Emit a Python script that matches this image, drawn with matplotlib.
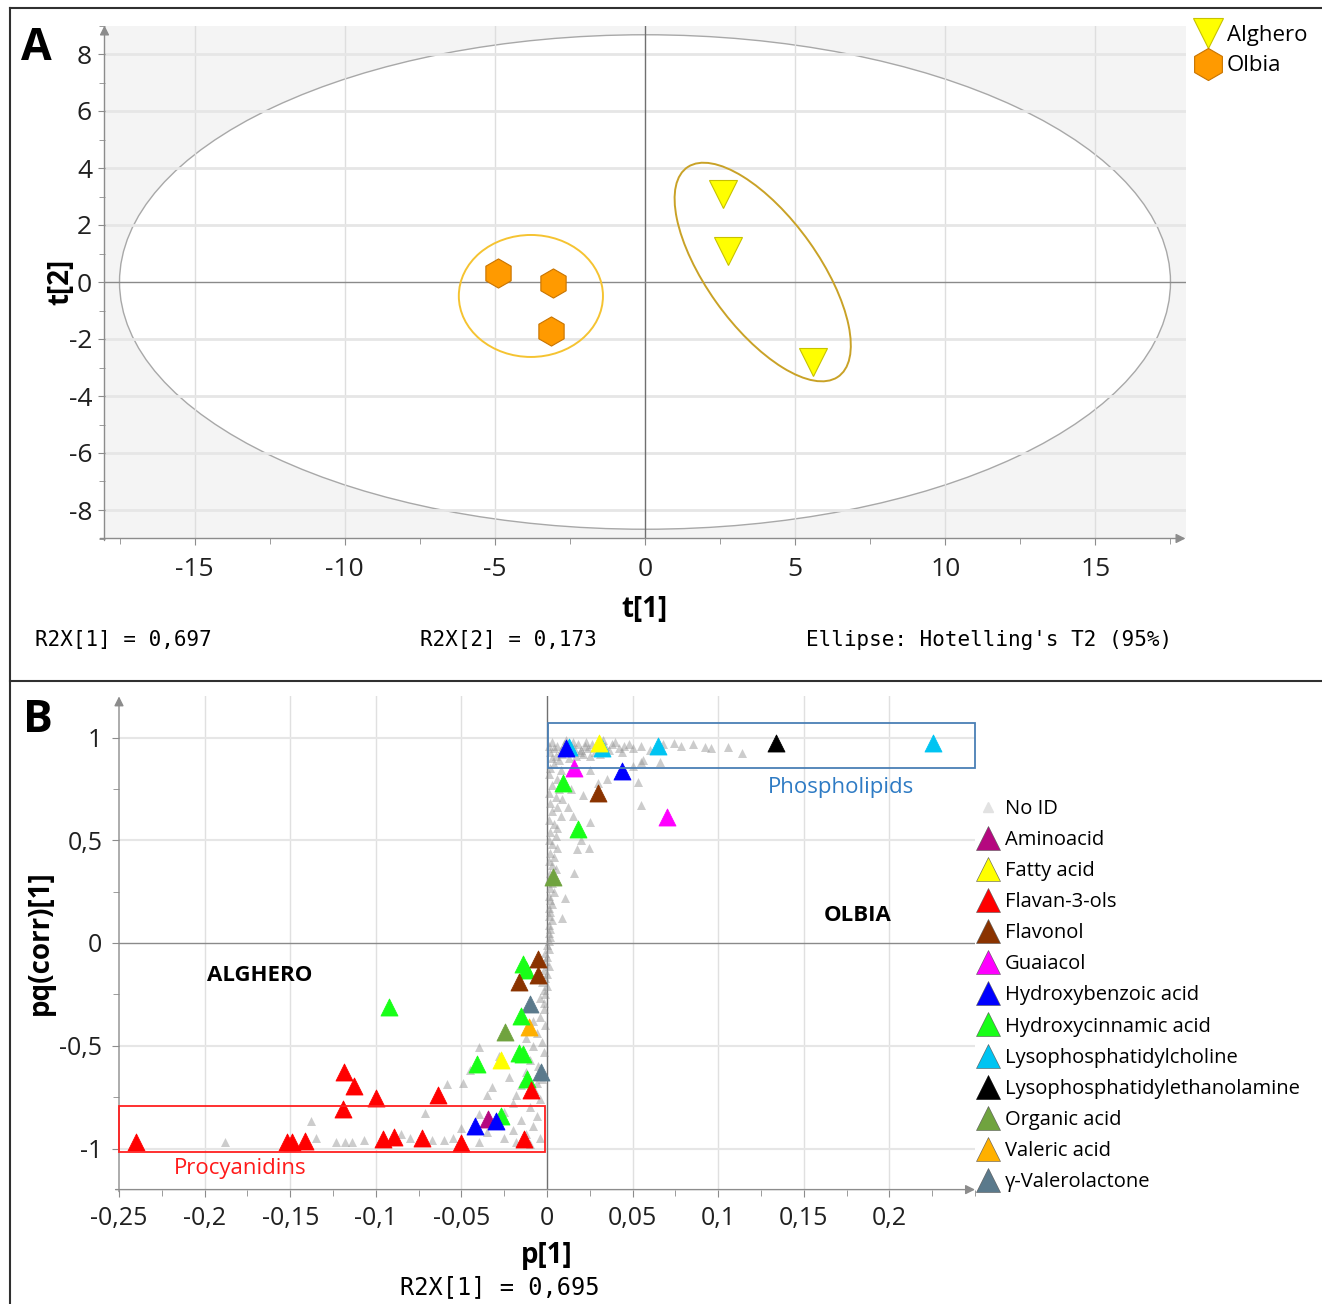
import numpy as np
import matplotlib
matplotlib.use("Agg")
import matplotlib.pyplot as plt  # noqa: E402
from matplotlib.patches import Ellipse, Rectangle  # noqa: E402
from matplotlib.lines import Line2D  # noqa: E402
from matplotlib.ticker import MultipleLocator, FixedLocator  # noqa: E402

plt.rcParams["font.family"] = ["Open Sans", "DejaVu Sans"]
MONO = "DejaVu Sans Mono"

W, H = 1322, 1304

# ---- panel A: PCA scores ----
alghero_t1 = [2.6, 2.75, 5.6]
alghero_t2 = [3.1, 1.1, -2.8]
olbia_t1 = [-4.9, -3.07, -3.13]
olbia_t2 = [0.32, -0.03, -1.72]
a_xticks = [-15, -10, -5, 0, 5, 10, 15]
a_yticks = [-8, -6, -4, -2, 0, 2, 4, 6, 8]

# ---- panel B: loadings p[1] vs pq(corr)[1] ----
noid = [
    (0.002, 0.93), (0.004, 0.95), (0.006, 0.96), (0.008, 0.94), (0.010, 0.97), (0.012, 0.93),
    (0.014, 0.96), (0.016, 0.95), (0.018, 0.97), (0.020, 0.94), (0.022, 0.96), (0.024, 0.95),
    (0.026, 0.97), (0.028, 0.93), (0.034, 0.96), (0.036, 0.94), (0.038, 0.97), (0.042, 0.95),
    (0.045, 0.96), (0.003, 0.90), (0.005, 0.91), (0.007, 0.89), (0.009, 0.92), (0.013, 0.90),
    (0.017, 0.91), (0.021, 0.92), (0.025, 0.91), (0.031, 0.92), (0.040, 0.98), (0.048, 0.97),
    (0.001, 0.96), (0.003, 0.98), (0.011, 0.99), (0.015, 0.98), (0.019, 0.93), (0.023, 0.98),
    (0.029, 0.96), (0.033, 0.99), (0.044, 0.93), (0.050, 0.95),
    (0.055, 0.96), (0.060, 0.94), (0.068, 0.97), (0.074, 0.973), (0.078, 0.96), (0.085, 0.97),
    (0.092, 0.955), (0.096, 0.947), (0.106, 0.955), (0.114, 0.923), (0.056, 0.89), (0.050, 0.86),
    (0.066, 0.88), (0.055, 0.882),
    (0.025, 0.84), (0.035, 0.80), (0.053, 0.785), (0.055, 0.672), (0.021, 0.72), (0.025, 0.59),
    (0.015, 0.62), (0.012, 0.66), (0.0247, 0.461), (0.0173, 0.456), (0.016, 0.34), (0.0105, 0.219),
    (0.0086, 0.122), (0.030, 0.78), (0.014, 0.75), (0.020, 0.50),
    (0.004, 0.87), (0.002, 0.85), (0.008, 0.84), (0.001, 0.82), (0.006, 0.80), (0.010, 0.79),
    (0.003, 0.77), (0.007, 0.75), (0.001, 0.73), (0.005, 0.71), (0.009, 0.70), (0.002, 0.68),
    (0.006, 0.66), (0.003, 0.64), (0.008, 0.62), (0.001, 0.60), (0.004, 0.58), (0.006, 0.56),
    (0.002, 0.54), (0.005, 0.52), (0.001, 0.50), (0.003, 0.48), (0.006, 0.46), (0.002, 0.44),
    (0.004, 0.42), (0.001, 0.40), (0.003, 0.38), (0.005, 0.36), (0.002, 0.34), (0.001, 0.31),
    (0.003, 0.29), (0.002, 0.27), (0.004, 0.25), (0.001, 0.23), (0.002, 0.21), (0.003, 0.19),
    (0.001, 0.17), (0.002, 0.15), (0.001, 0.13), (0.003, 0.11), (0.001, 0.09), (0.002, 0.07),
    (0.001, 0.05), (0.002, 0.03), (0.001, 0.01), (0.000, -0.01), (0.001, -0.03), (-0.001, -0.05),
    (0.000, -0.07), (-0.001, -0.09), (0.001, -0.11), (-0.002, -0.13), (0.000, -0.15),
    (-0.001, -0.17), (-0.003, -0.19), (0.000, -0.21), (-0.002, -0.23), (-0.001, -0.25),
    (-0.004, -0.27), (-0.002, -0.29),
    (-0.002, -0.32), (-0.004, -0.36), (-0.001, -0.40), (-0.006, -0.44), (-0.003, -0.48),
    (-0.008, -0.50), (-0.002, -0.53), (-0.010, -0.57), (-0.005, -0.60), (-0.012, -0.63),
    (-0.003, -0.66), (-0.015, -0.69), (-0.007, -0.72), (-0.018, -0.74), (-0.004, -0.76),
    (-0.020, -0.78), (-0.010, -0.80), (-0.025, -0.82), (-0.006, -0.84), (-0.015, -0.86),
    (-0.030, -0.88), (-0.008, -0.89), (-0.020, -0.91), (-0.012, -0.93), (-0.035, -0.92),
    (-0.004, -0.95), (-0.025, -0.95), (-0.040, -0.97), (-0.018, -0.97), (-0.010, -0.98),
    (-0.045, -0.62), (-0.035, -0.74), (-0.040, -0.83), (-0.028, -0.55), (-0.022, -0.65),
    (-0.050, -0.90), (-0.055, -0.95), (-0.040, -0.505), (-0.0586, -0.686), (-0.049, -0.682),
    (-0.071, -0.828), (-0.032, -0.70), (-0.008, -0.38), (-0.012, -0.46), (-0.006, -0.68),
    (-0.060, -0.958), (-0.067, -0.958), (-0.080, -0.95), (-0.085, -0.93), (-0.107, -0.958),
    (-0.114, -0.967), (-0.118, -0.967), (-0.123, -0.967), (-0.135, -0.95), (-0.138, -0.866),
    (-0.188, -0.968),
]
aminoacid = [(-0.0346, -0.858)]
fatty_acid = [(0.0306, 0.972), (-0.0269, -0.569)]
flavan3ols = [(-0.2403, -0.967), (-0.1184, -0.626), (-0.1126, -0.694), (-0.0999, -0.756),
              (-0.119, -0.809), (-0.0635, -0.740), (-0.152, -0.967), (-0.149, -0.967),
              (-0.1414, -0.962), (-0.096, -0.955), (-0.0892, -0.943), (-0.0732, -0.951),
              (-0.0502, -0.972), (-0.0133, -0.955), (-0.0093, -0.715)]
flavonol = [(0.030, 0.728), (-0.0054, -0.079), (-0.0164, -0.188), (-0.0054, -0.156)]
guaiacol = [(0.016, 0.85), (0.0699, 0.615)]
hbenzoic = [(0.0111, 0.949), (0.0436, 0.837), (-0.030, -0.865), (-0.042, -0.891)]
hcinnamic = [(0.0095, 0.78), (0.0183, 0.553), (-0.0138, -0.104), (-0.0123, -0.131),
             (-0.0154, -0.354), (-0.0164, -0.534), (-0.0138, -0.540), (-0.0411, -0.590),
             (-0.0115, -0.663), (-0.027, -0.842), (-0.0921, -0.310)]
lpc = [(0.013, 0.955), (0.032, 0.947), (0.0647, 0.960), (0.2253, 0.972)]
lpe = [(0.134, 0.972)]
organic = [(0.0037, 0.323), (-0.0245, -0.431)]
valeric = [(-0.0103, -0.407)]
valerolactone = [(-0.0099, -0.297), (-0.0035, -0.626)]

classes = [
    ("Aminoacid", aminoacid, "#b5087f"),
    ("Fatty acid", fatty_acid, "#ffff00"),
    ("Flavan-3-ols", flavan3ols, "#ff0000"),
    ("Flavonol", flavonol, "#8a3300"),
    ("Guaiacol", guaiacol, "#ff00ff"),
    ("Hydroxybenzoic acid", hbenzoic, "#0000ff"),
    ("Hydroxycinnamic acid", hcinnamic, "#18ff18"),
    ("Lysophosphatidylcholine", lpc, "#00c4f2"),
    ("Lysophosphatidylethanolamine", lpe, "#000000"),
    ("Organic acid", organic, "#70a33f"),
    ("Valeric acid", valeric, "#ffb000"),
    ("γ-Valerolactone", valerolactone, "#5b7a8c"),
]
draw_order = ["Lysophosphatidylcholine", "Lysophosphatidylethanolamine", "Organic acid",
              "Valeric acid", "γ-Valerolactone", "Hydroxycinnamic acid", "Flavonol",
              "Aminoacid", "Fatty acid", "Guaiacol", "Hydroxybenzoic acid", "Flavan-3-ols"]
b_xticks = [-0.25, -0.2, -0.15, -0.1, -0.05, 0, 0.05, 0.1, 0.15, 0.2]
b_yticks = [-1, -0.5, 0, 0.5, 1]


def comma(v):
    return f"{v:g}".replace(".", ",")


def axis_arrows(ax):
    kw = dict(arrowstyle="-|>", color="#8c8c8c", lw=1.0, mutation_scale=14, shrinkA=0, shrinkB=0)
    ax.annotate("", xy=(1.0, 0), xytext=(-0.004, 0), xycoords="axes fraction",
                arrowprops=kw, annotation_clip=False)
    ax.annotate("", xy=(0, 1.0), xytext=(0, -0.004), xycoords="axes fraction",
                arrowprops=kw, annotation_clip=False)
    for s in ax.spines.values():
        s.set_visible(False)


fig = plt.figure(figsize=(W / 100, H / 100), dpi=100)

# ---------------- panel A ----------------
axA = fig.add_axes([104.5 / W, 1 - 538.5 / H, 1081 / W, 513 / H])
axA.set_facecolor("#f4f4f4")
axA.set_xlim(-18, 18)
axA.set_ylim(-9, 9)
axA.add_patch(Ellipse((0, 0), 35.0, 17.35, facecolor="white", edgecolor="#a8a8a8", lw=1.0, zorder=0.2))
for v in a_xticks:
    axA.axvline(v, color="#dedede" if v else "#707070", lw=1.0, zorder=0.4 if v else 1.5)
for v in a_yticks:
    axA.axhline(v, color="#e6e6e6" if v else "#8a8a8a", lw=2.0 if v else 1.0, zorder=0.4 if v else 1.5)
axA.add_patch(Ellipse((-3.8, -0.49), 4.8, 4.28, facecolor="none", edgecolor="#f5c331", lw=1.4, zorder=2))
axA.add_patch(Ellipse((3.92, 0.35), 8.9, 3.75, angle=-56, facecolor="none", edgecolor="#c9a227",
                      lw=1.4, zorder=2))
axA.plot(alghero_t1, alghero_t2, "v", ms=20, mfc="#ffff00", mec="#c8c200", mew=0.8, ls="none",
         label="Alghero", zorder=3)
axA.plot(olbia_t1, olbia_t2, "h", ms=21, mfc="#ff9a00", mec="#c87400", mew=0.8, ls="none",
         label="Olbia", zorder=3)
axA.xaxis.set_major_locator(FixedLocator(a_xticks))
axA.yaxis.set_major_locator(FixedLocator(a_yticks))
axA.xaxis.set_minor_locator(MultipleLocator(2.5))
axA.yaxis.set_minor_locator(MultipleLocator(1))
axA.set_xticklabels([str(v) for v in a_xticks])
axA.set_yticklabels([str(v) for v in a_yticks])
axA.tick_params(which="both", direction="out", color="#8c8c8c", labelsize=19, labelcolor="#202020")
axA.tick_params(axis="x", which="major", length=5, pad=8)
axA.tick_params(axis="y", which="major", length=5, pad=4)
axA.tick_params(which="minor", length=4)
axis_arrows(axA)
axA.legend(loc="upper left", bbox_to_anchor=(1197 / W, 1 - 25 / H), bbox_transform=fig.transFigure,
           frameon=False, fontsize=16, handlelength=1.0, handletextpad=0.35, labelspacing=0.42,
           borderpad=0, borderaxespad=0, markerscale=1.1)

fig.text(36 / W, 1 - 48 / H, "A", fontsize=32, fontweight="bold", ha="center", va="center")
fig.text(61 / W, 1 - 282 / H, "t[2]", fontsize=20, fontweight="bold", rotation=90,
         ha="center", va="center")
fig.text(645 / W, 1 - 609 / H, "t[1]", fontsize=20, fontweight="bold", ha="center", va="center")
fig.text(35 / W, 1 - 640 / H, "R2X[1] = 0,697", family=MONO, fontsize=15, ha="left", va="center")
fig.text(420 / W, 1 - 640 / H, "R2X[2] = 0,173", family=MONO, fontsize=15, ha="left", va="center")
fig.text(806 / W, 1 - 640 / H, "Ellipse: Hotelling's T2 (95%)", family=MONO, fontsize=15,
         ha="left", va="center")

# ---------------- panel B ----------------
axB = fig.add_axes([119 / W, 1 - 1189.6 / H, 856 / W, 493.2 / H])
axB.set_xlim(-0.25, 0.25)
axB.set_ylim(-1.2, 1.2)
for v in b_xticks[1:]:
    axB.axvline(v, color="#e0e0e0" if v else "#707070", lw=1.0, zorder=0.4 if v else 1.5)
for v in b_yticks:
    axB.axhline(v, color="#e6e6e6" if v else "#8a8a8a", lw=1.5 if v else 1.0, zorder=0.4 if v else 1.5)

nx, ny = np.array(noid).T
axB.scatter(nx, ny, marker="^", s=42, color="#8f8f8f", alpha=0.45, lw=0, zorder=2)
cmap = {name: (pts, col) for name, pts, col in classes}
for name in draw_order:
    pts, col = cmap[name]
    px, py = np.array(pts).T
    axB.scatter(px, py, marker="^", s=150, color=col, edgecolors=col, lw=0.6, zorder=3)

axB.add_patch(Rectangle((0.0005, 0.85), 0.2495, 0.22, facecolor="none", edgecolor="#4a7fb5",
                        lw=1.3, zorder=4, clip_on=False))
axB.add_patch(Rectangle((-0.25, -1.017), 0.249, 0.224, facecolor="none", edgecolor="#ff2020",
                        lw=1.3, zorder=4, clip_on=False))
axB.text(0.172, 0.755, "Phospholipids", color="#2e7bc4", fontsize=16, ha="center", va="center")
axB.text(-0.179, -1.098, "Procyanidins", color="#ff1a1a", fontsize=16, ha="center", va="center")
axB.text(0.1815, 0.135, "OLBIA", fontsize=16, fontweight="bold", ha="center", va="center")
axB.text(-0.168, -0.16, "ALGHERO", fontsize=16, fontweight="bold", ha="center", va="center")

axB.xaxis.set_major_locator(FixedLocator(b_xticks))
axB.yaxis.set_major_locator(FixedLocator(b_yticks))
axB.xaxis.set_minor_locator(MultipleLocator(0.025))
axB.yaxis.set_minor_locator(MultipleLocator(0.25))
axB.set_xticklabels([comma(v) for v in b_xticks])
axB.set_yticklabels([comma(v) for v in b_yticks])
axB.tick_params(which="both", direction="out", color="#8c8c8c", labelsize=18, labelcolor="#202020")
axB.tick_params(which="major", length=5, pad=7)
axB.tick_params(which="minor", length=4)
axis_arrows(axB)

handles = [Line2D([], [], marker="^", ls="none", ms=7, mfc="#e2e2e2", mec="#e2e2e2", label="No ID")]
for name, pts, col in classes:
    handles.append(Line2D([], [], marker="^", ls="none", ms=17, mfc=col,
                          mec="#555555" if col != "#000000" else col, mew=0.4, label=name))
axB.legend(handles=handles, loc="upper left", bbox_to_anchor=(978 / W, 1 - 799 / H),
           bbox_transform=fig.transFigure, frameon=False, fontsize=14.5, handlelength=1.0,
           handletextpad=0.35, labelspacing=0.55, borderpad=0, borderaxespad=0)

fig.text(38 / W, 1 - 720 / H, "B", fontsize=32, fontweight="bold", ha="center", va="center")
fig.text(40 / W, 1 - 943 / H, "pq(corr)[1]", fontsize=20, fontweight="bold", rotation=90,
         ha="center", va="center")
fig.text(547 / W, 1 - 1256 / H, "p[1]", fontsize=20, fontweight="bold", ha="center", va="center")
fig.text(500 / W, 1 - 1287 / H, "R2X[1] = 0,695", family=MONO, fontsize=17, ha="center", va="center")

# panel frames
for seg in [((10, 10), (8, 1304)), ((10, 1322), (8, 8)), ((10, 1322), (681, 681))]:
    fig.add_artist(Line2D([seg[0][0] / W, seg[0][1] / W], [1 - seg[1][0] / H, 1 - seg[1][1] / H],
                          color="#303030", lw=1.5))

fig.savefig("out.png", dpi=100)
